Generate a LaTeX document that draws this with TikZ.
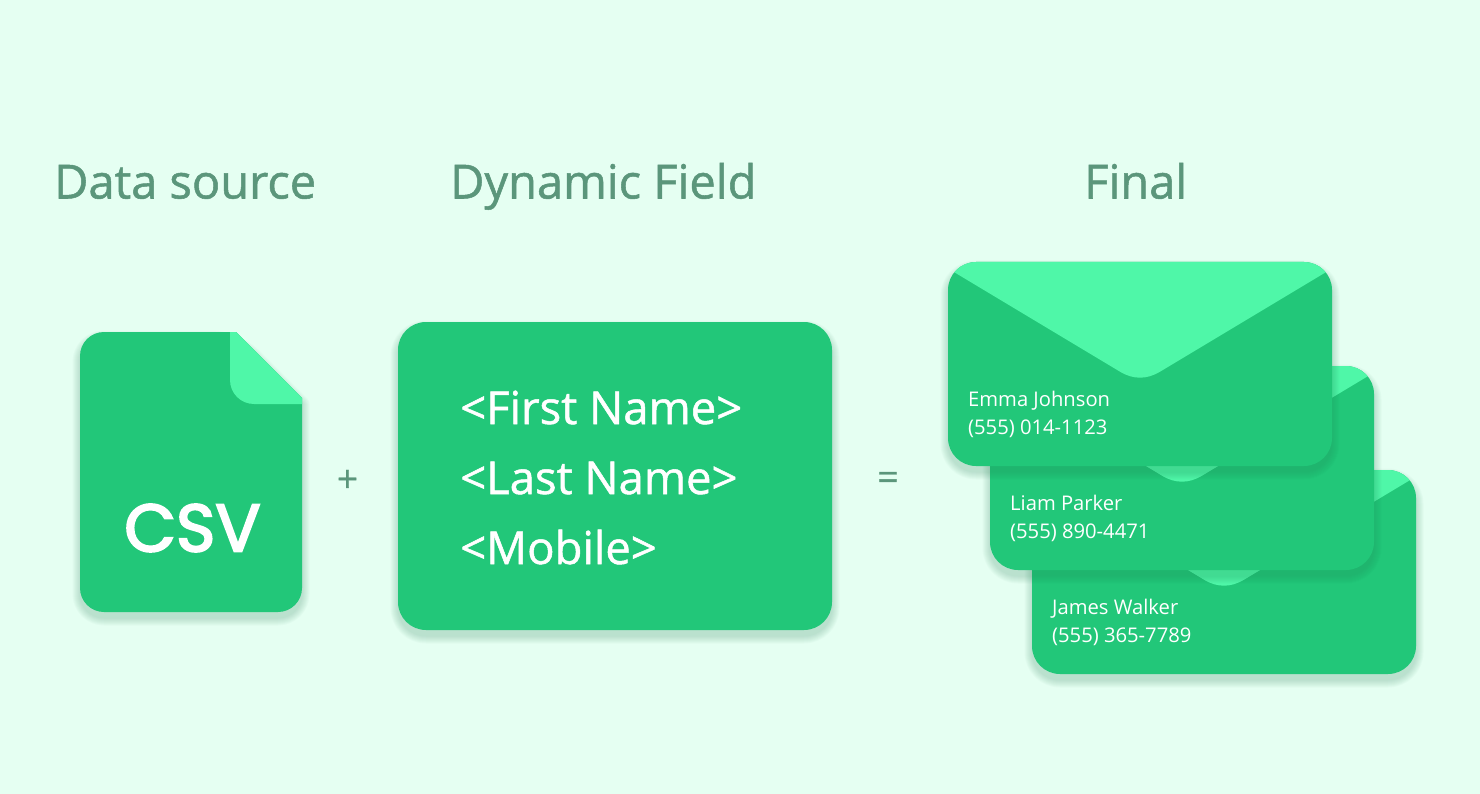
\documentclass[tikz,border=0pt]{standalone}
\usepackage{fontspec}
\setmainfont{Open Sans}
\newfontfamily\mediumfont[FakeBold=1.1]{Open Sans}
\newfontfamily\csvfont[FakeBold=3]{Poppins}
\usetikzlibrary{positioning}
\definecolor{pagemint}{HTML}{E5FFF2}
\definecolor{bodygreen}{HTML}{22C779}
\definecolor{flapgreen}{HTML}{4FF7A8}
\definecolor{labelgreen}{HTML}{5B967B}
\definecolor{shadowgreen}{HTML}{1F7A50}
\tikzset{
  heading/.style={anchor=base west,inner sep=0pt,text=labelgreen,font=\mediumfont\fontsize{47}{47}\selectfont},
  operator/.style={inner sep=0pt,text=labelgreen,font=\mediumfont\fontsize{37}{37}\selectfont},
  fieldline/.style={anchor=base west,inner sep=0pt,text=white,font=\mediumfont\fontsize{45.4}{45.4}\selectfont},
  contact/.style={anchor=base west,inner sep=0pt,text=white,font=\fontsize{20.2}{20.2}\selectfont},
  shadowlayer/.style={fill=shadowgreen,draw=shadowgreen,line join=round}
}
\newcommand{\softshadow}[1]{%
  \foreach \g in {1,3,...,15} {
    \begin{scope}[transparency group,opacity=.026,shift={(0,6)}]
      \path[shadowlayer,line width=\g] #1;
    \end{scope}
  }
}
% one envelope: prefix, left, top, name, phone
\newcommand{\envelope}[5]{%
  \begin{scope}[shift={(#2,#3)}]
    \softshadow{[rounded corners=28] (0,0) rectangle (384,204)}
    \fill[bodygreen,rounded corners=28] (0,0) rectangle (384,204);
    \begin{scope}
      \clip[rounded corners=28] (0,0) rectangle (384,204);
      \fill[flapgreen] (0,0) -- (0,6.5) -- (172,109.7) .. controls (185.3,117.7) and (198.7,117.7) .. (212,109.7) -- (384,6.5) -- (384,0) -- cycle;
    \end{scope}
    \node[contact] (#1name) at (20,144) {#4};
    \node[contact] (#1phone) at (20,172) {#5};
  \end{scope}
}
\begin{document}
\begin{tikzpicture}[x=1pt,y=-1pt]
\fill[pagemint] (0,0) rectangle (1480,794);
\useasboundingbox (0,0) rectangle (1480,794);

% headings
\node[heading] (source) at (54,198.5) {Data source};
\node[heading] (field) at (450,198.5) {Dynamic Field};
\node[heading] (final) at (1084,198.5) {Final};

% csv file
\softshadow{[rounded corners=24] (80,470) -- (80,332) -- (236,332) [sharp corners] -- (302,398) [rounded corners=24] -- (302,612) -- (80,612) -- cycle}
\fill[bodygreen] (80,470) [rounded corners=24] -- (80,332) [sharp corners] -- (236,332) -- (302,398) [rounded corners=24] -- (302,612) -- (80,612) -- cycle;
\fill[flapgreen] (302,404) [rounded corners=24] -- (230,404) [sharp corners] -- (230,332) -- (236,332) -- (302,398) -- cycle;
\node[inner sep=0pt,text=white,font=\csvfont\fontsize{67}{67}\selectfont] (csv) at (192.5,528) {CSV};

\node[operator] (plus) at (347.5,481) {+};

% field box
\softshadow{[rounded corners=28] (398,322) rectangle (832,630)}
\fill[bodygreen,rounded corners=28] (398,322) rectangle (832,630);
\node[fieldline] (first) at (460,424) {<First Name>};
\node[fieldline] (last) at (460,494) {<Last Name>};
\node[fieldline] (mobile) at (460,564) {<Mobile>};

\node[operator] (equals) at (888,481) {=};

% envelopes, back to front
\envelope{james}{1032}{470}{James Walker}{(555) 365-7789}
\envelope{liam}{990}{366}{Liam Parker}{(555) 890-4471}
\envelope{emma}{948}{262}{Emma Johnson}{(555) 014-1123}
\end{tikzpicture}
\end{document}
